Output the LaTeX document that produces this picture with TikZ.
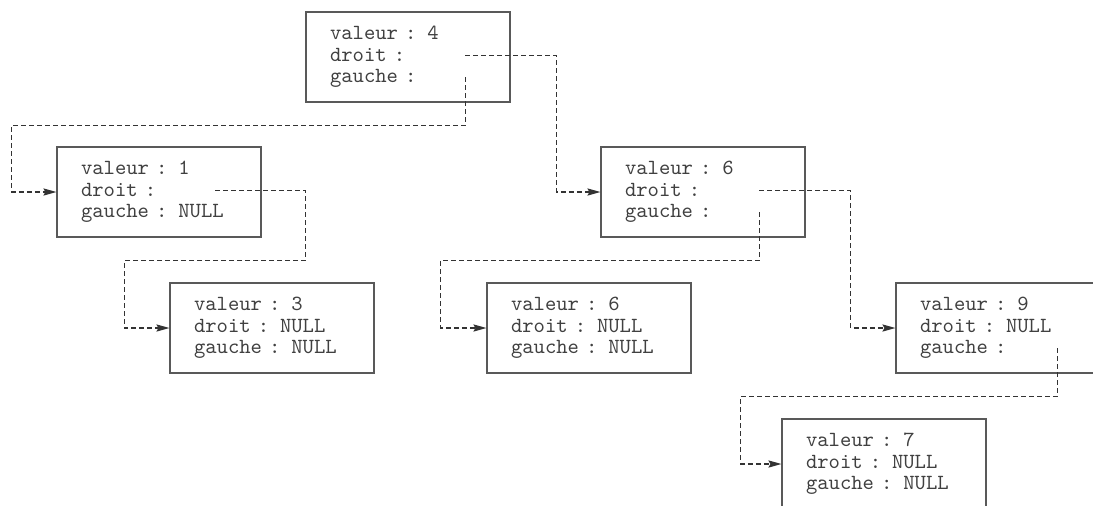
\documentclass[tikz,border=0pt]{standalone}
\usepackage{fontspec}
\usepackage{tikz}
\usetikzlibrary{calc,arrows.meta}

\tikzset{
	noeud/.style={draw=black!65, line width=0.6pt, text=black!75,
		font=\ttfamily\fontsize{10.8}{10.75}\selectfont,
		text width=78pt, inner xsep=12pt, inner ysep=0pt,
		minimum height=45pt, align=left},
	ptr/.style={draw=black!80, line width=0.6pt, dash pattern=on 2.4pt off 1.6pt,
		-{Stealth[length=6.5pt,width=3.6pt,inset=1pt]}}
}

\begin{document}
\begin{tikzpicture}[x=0.5pt,y=-0.5pt]
		\useasboundingbox (0,0) rectangle (1093,505);
		\clip (0,0) rectangle (1093,505);
		% les noeuds de l'arbre
		\node[noeud] (n4) at (408,57) {valeur : 4\\droit :\\gauche :};
		\node[noeud] (n1) at (159,192) {valeur : 1\\droit :\\gauche : NULL};
		\node[noeud] (n6a) at (703,192) {valeur : 6\\droit :\\gauche :};
		\node[noeud] (n3) at (272,328) {valeur : 3\\droit : NULL\\gauche : NULL};
		\node[noeud] (n6b) at (589,328) {valeur : 6\\droit : NULL\\gauche : NULL};
		\node[noeud] (n9) at (998,328) {valeur : 9\\droit : NULL\\gauche :};
		\node[noeud] (n7) at (884,464) {valeur : 7\\droit : NULL\\gauche : NULL};
		
		% depart des pointeurs
		\coordinate (n4-d) at ($(n4.north west)+(160,44)$);
		\coordinate (n4-g) at ($(n4.north west)+(160,66)$);
		\coordinate (n1-d) at ($(n1.north west)+(159,44)$);
		\coordinate (n6a-d) at ($(n6a.north west)+(159,44)$);
		\coordinate (n6a-g) at ($(n6a.north west)+(159,66)$);
		\coordinate (n9-g) at ($(n9.north west)+(162,66)$);
		
		\draw[ptr] (n4-d) -| ($(n4.east)+(46,0)$) |- (n6a.west);
		\draw[ptr] (n4-g) |- ($(n4.south)+(0,23)$) -| ($(n1.west)+(-45,0)$) -- (n1.west);
		\draw[ptr] (n1-d) -| ($(n1.east)+(44,0)$) |- ($(n1.south)+(0,23)$) -| ($(n3.west)+(-45,0)$) -- (n3.west);
		\draw[ptr] (n6a-d) -| ($(n6a.east)+(45,0)$) |- (n9.west);
		\draw[ptr] (n6a-g) |- ($(n6a.south)+(0,23)$) -| ($(n6b.west)+(-46,0)$) -- (n6b.west);
		\draw[ptr] (n9-g) |- ($(n9.south)+(0,23)$) -| ($(n7.west)+(-41,0)$) -- (n7.west);
\end{tikzpicture}
\end{document}
